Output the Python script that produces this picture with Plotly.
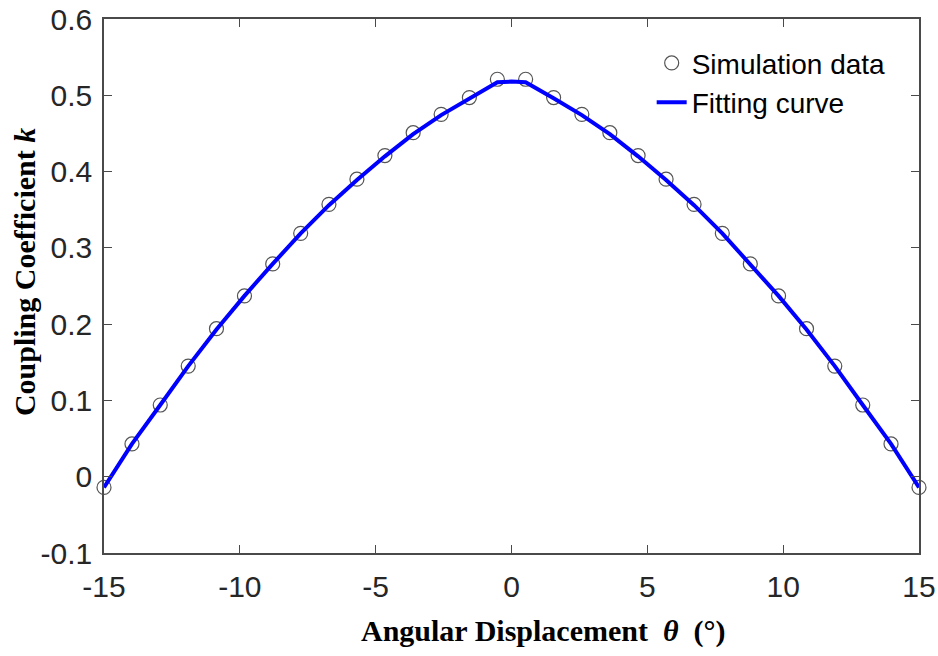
import plotly.graph_objects as go

# Simulation data
sim_theta = [-15.0, -13.97, -12.93, -11.9, -10.86, -9.83, -8.79, -7.76, -6.72, -5.69,
             -4.66, -3.62, -2.59, -1.55, -0.52, 0.52, 1.55, 2.59, 3.62, 4.66,
             5.69, 6.72, 7.76, 8.79, 9.83, 10.86, 11.9, 12.93, 13.97, 15.0]
sim_k = [-0.014, 0.043, 0.094, 0.145, 0.194, 0.237, 0.279, 0.319, 0.357, 0.390,
         0.421, 0.451, 0.475, 0.497, 0.521, 0.521, 0.497, 0.475, 0.451, 0.421,
         0.390, 0.357, 0.319, 0.279, 0.237, 0.194, 0.145, 0.094, 0.043, -0.014]

# Fitting curve
fit_theta = [-15.0, -13.97, -12.93, -11.9, -10.86, -9.83, -8.79, -7.76, -6.72, -5.69,
             -4.66, -3.62, -2.59, -1.55, -0.52, 0.0, 0.52, 1.55, 2.59, 3.62, 4.66,
             5.69, 6.72, 7.76, 8.79, 9.83, 10.86, 11.9, 12.93, 13.97, 15.0]
fit_k = [-0.014, 0.043, 0.094, 0.145, 0.193, 0.237, 0.279, 0.319, 0.356, 0.389,
         0.420, 0.449, 0.474, 0.496, 0.517, 0.518, 0.517, 0.496, 0.474, 0.449, 0.420,
         0.389, 0.356, 0.319, 0.279, 0.237, 0.193, 0.145, 0.094, 0.043, -0.014]

x_ticks = [-15, -10, -5, 0, 5, 10, 15]
x_ticktext = ["-15", "-10", "-5", "0", "5", "10", "15"]
y_ticks = [-0.1, 0, 0.1, 0.2, 0.3, 0.4, 0.5, 0.6]
y_ticktext = ["-0.1", "0", "0.1", "0.2", "0.3", "0.4", "0.5", "0.6"]

x_title = "<b>Angular Displacement  <i>θ</i>  (°)</b>"
y_title = "<b>Coupling Coefficient <i>k</i></b>"

AX = "#4a4a4a"
TICKFONT = dict(family="Liberation Sans, Arial", size=30, color="#262626")
TITLEFONT = dict(family="Liberation Serif, Times New Roman", size=30, color="#000000")

fig = go.Figure()
fig.add_trace(go.Scatter(
    x=sim_theta, y=sim_k, mode="markers", name="Simulation data",
    marker=dict(symbol="circle-open", size=14, color="#555555", line=dict(width=1.2, color="#555555")),
    cliponaxis=False,
))
fig.add_trace(go.Scatter(
    x=fit_theta, y=fit_k, mode="lines", name="Fitting curve",
    line=dict(color="#0000ff", width=4),
    cliponaxis=False,
))

fig.update_layout(
    width=938, height=656,
    margin=dict(l=104, r=19, t=19, b=103, autoexpand=False),
    paper_bgcolor="white", plot_bgcolor="white",
    showlegend=True,
    legend=dict(
        x=0.672, y=0.964, xanchor="left", yanchor="top",
        bgcolor="rgba(0,0,0,0)", borderwidth=0,
        font=dict(family="Liberation Sans, Arial", size=28, color="#000000"),
        itemwidth=30,
    ),
    xaxis=dict(
        range=[-15, 15], tickvals=x_ticks, ticktext=x_ticktext, automargin=False,
        showgrid=False, zeroline=False, showline=True, linecolor=AX, linewidth=1.5,
        mirror="ticks", ticks="inside", ticklen=8, tickcolor=AX, tickwidth=1.2,
        tickfont=TICKFONT, ticklabelstandoff=6,
    ),
    yaxis=dict(
        range=[-0.1, 0.6], tickvals=y_ticks, ticktext=y_ticktext, automargin=False,
        showgrid=False, zeroline=False, showline=True, linecolor=AX, linewidth=1.5,
        mirror="ticks", ticks="inside", ticklen=8, tickcolor=AX, tickwidth=1.2,
        tickfont=TICKFONT, ticklabelstandoff=4,
    ),
    annotations=[
        dict(text=x_title, xref="paper", yref="paper", x=0.5387, y=-0.146,
             xanchor="center", yanchor="middle", showarrow=False, font=TITLEFONT),
        dict(text=y_title, xref="paper", yref="paper", x=-0.0982, y=0.526,
             xanchor="center", yanchor="middle", showarrow=False, textangle=-90,
             font=TITLEFONT),
    ],
)

fig.write_html("out.html")
